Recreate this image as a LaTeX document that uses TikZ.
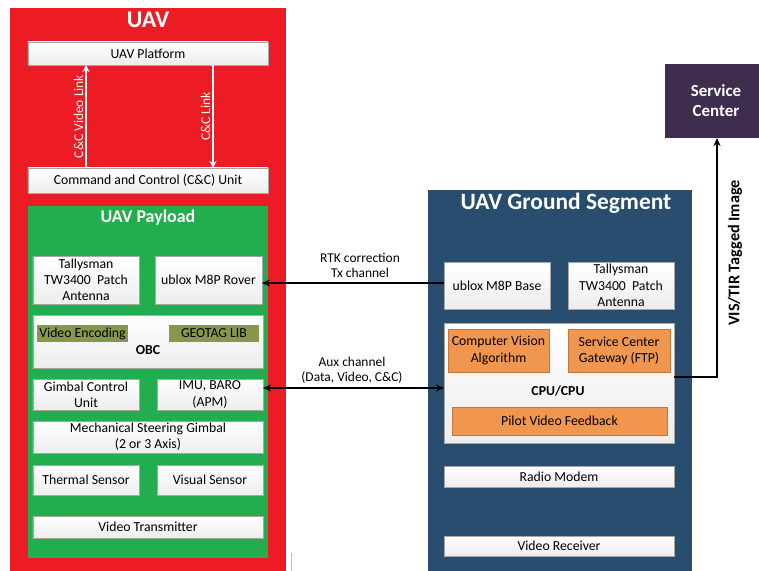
\documentclass[tikz,border=0pt]{standalone}
\usepackage{fontspec}
\setmainfont{Carlito}
\usetikzlibrary{arrows.meta}
\definecolor{uavred}{HTML}{ED1C24}
\definecolor{paygreen}{HTML}{22AE4E}
\definecolor{gsblue}{HTML}{284D6E}
\definecolor{scpurple}{HTML}{3F2D50}
\definecolor{boxorange}{HTML}{F0964F}
\definecolor{boxolive}{HTML}{86994A}
\definecolor{boxedge}{HTML}{A6A6A6}
\tikzset{
  container/.style={inner sep=0pt, outer sep=0pt},
  wbox/.style={draw=boxedge, line width=0.4bp, top color=white, bottom color=black!7, inner sep=1bp, outer sep=0pt, align=center, font=\fontsize{13.8}{16.3}\selectfont, text=black},
  obox/.style={fill=boxorange, draw=boxorange!80!black, line width=0.3bp, inner sep=1bp, outer sep=0pt, align=center, font=\fontsize{13.8}{16.3}\selectfont},
  gbox/.style={fill=boxolive, inner sep=1bp, outer sep=0pt, align=center, font=\fontsize{13.8}{16}\selectfont},
  title/.style={text=white, font=\bfseries\fontsize{#1}{#1}\selectfont, inner sep=0pt},
  lbl/.style={align=center, font=\fontsize{13.5}{15.5}\selectfont, inner sep=0pt},
  wlink/.style={draw=white, line width=1.6bp, -{Stealth[length=7bp,width=7bp]}},
  blink/.style={draw=black, line width=1.6bp, -{Stealth[length=8bp,width=7bp]}},
}
\begin{document}
\begin{tikzpicture}[x=1bp,y=-1bp]
\useasboundingbox (0,0) rectangle (759,571);
\clip (0,0) rectangle (759,571);
% UAV container
\node[container, fill=uavred, minimum width=276bp, minimum height=566bp] (uav) at (148,291) {};
\node[title=24] (uavtitle) at (148,20) {UAV};
\node[wbox, minimum width=240bp, minimum height=23bp] (platform) at (148,53.5) {UAV Platform};
\node[wbox, minimum width=240bp, minimum height=25bp] (cc) at (148,180.5) {Command and Control (C\&C) Unit};
\draw[wlink] (cc.north -| 86,0) -- (platform.south -| 86,0) node[midway, rotate=90, anchor=south, text=white, font=\fontsize{13.5}{15}\selectfont, inner sep=2bp] (vidlinklbl) {C\&C Video Link};
\draw[wlink] (platform.south -| 213,0) -- (cc.north -| 213,0) node[midway, rotate=90, anchor=south, text=white, font=\fontsize{13.5}{15}\selectfont, inner sep=2bp] (cclinklbl) {C\&C Link};
% Payload
\node[container, fill=paygreen, minimum width=240bp, minimum height=352bp] (payload) at (148,382) {};
\node[title=18] (paytitle) at (148,218) {UAV Payload};
\node[wbox, minimum width=106bp, minimum height=48bp] (tally1) at (86,280) {Tallysman\\TW3400\ \ Patch\\Antenna};
\node[wbox, minimum width=107bp, minimum height=48bp] (rover) at (208.5,280) {ublox M8P Rover};
\node[wbox, minimum width=230bp, minimum height=53bp] (obc) at (148,341.5) {};
\node[gbox, minimum width=91bp, minimum height=17bp] (videnc) at (82.5,333.5) {Video Encoding};
\node[gbox, minimum width=90bp, minimum height=17bp] (geotag) at (214,333.5) {GEOTAG LIB};
\node[font=\bfseries\fontsize{13.8}{15}\selectfont, inner sep=0pt] (obclbl) at (148,350) {OBC};
\node[wbox, minimum width=106bp, minimum height=31bp] (gimbalctrl) at (86,394.5) {Gimbal Control\\Unit};
\node[wbox, minimum width=106bp, minimum height=31bp] (imu) at (210,394.5) {IMU, BARO\\(APM)};
\node[wbox, minimum width=230bp, minimum height=32bp] (mech) at (148,437) {Mechanical Steering Gimbal\\(2 or 3 Axis)};
\node[wbox, minimum width=106bp, minimum height=30bp] (thermal) at (86,480) {Thermal Sensor};
\node[wbox, minimum width=106bp, minimum height=30bp] (visual) at (210,480) {Visual Sensor};
\node[wbox, minimum width=230bp, minimum height=22bp] (vidtx) at (148,527) {Video Transmitter};
% artifact line
\draw[black!25, line width=0.8bp] (291,553) -- (291,571);
% Ground segment
\node[container, fill=gsblue, minimum width=264bp, minimum height=386bp] (gs) at (560,383) {};
\node[title=23.5] (gstitle) at (566,203) {UAV Ground Segment};
\node[wbox, minimum width=106bp, minimum height=47bp] (base) at (497,285.5) {ublox M8P Base};
\node[wbox, minimum width=106bp, minimum height=47bp] (tally2) at (621,285.5) {Tallysman\\TW3400\ \ Patch\\Antenna};
\node[wbox, minimum width=230bp, minimum height=120bp] (cpu) at (559,383) {};
\node[obox, minimum width=101bp, minimum height=43bp] (cv) at (498.5,350.5) {Computer Vision\\Algorithm};
\node[obox, minimum width=102bp, minimum height=43bp] (scg) at (619,350.5) {Service Center\\Gateway (FTP)};
\node[font=\bfseries\fontsize{13.8}{15}\selectfont, inner sep=0pt] (cpulbl) at (558,391) {CPU/CPU};
\node[obox, minimum width=215bp, minimum height=28bp] (pilot) at (559.5,421) {Pilot Video Feedback};
\node[wbox, minimum width=230bp, minimum height=21bp] (radio) at (559,476.5) {Radio Modem};
\node[wbox, minimum width=230bp, minimum height=20bp] (vidrx) at (559,546) {Video Receiver};
% Service center
\node[container, fill=scpurple, minimum width=102bp, minimum height=74bp, text=white, align=center, font=\bfseries\fontsize{17}{20}\selectfont] (sc) at (716,101) {Service\\Center};
% connectors
\draw[blink] (base.west |- 0,283) -- (rover.east |- 0,283);
\node[lbl] (rtklbl) at (360,265.5) {RTK correction\\Tx channel};
\draw[blink, {Stealth[length=8bp,width=7bp]}-{Stealth[length=8bp,width=7bp]}] (imu.east |- 0,388) -- (cpu.west |- 0,388);
\node[lbl] (auxlbl) at (352,370.5) {Aux channel\\(Data, Video, C\&C)};
\coordinate (corner) at (717,377);
\draw[blink] (cpu.east |- corner) -- (corner) -- (sc.south -| corner);
\node[rotate=90, font=\bfseries\fontsize{16.3}{18}\selectfont, inner sep=0pt] (vislbl) at (735,253) {VIS/TIR Tagged Image};
\end{tikzpicture}
\end{document}
